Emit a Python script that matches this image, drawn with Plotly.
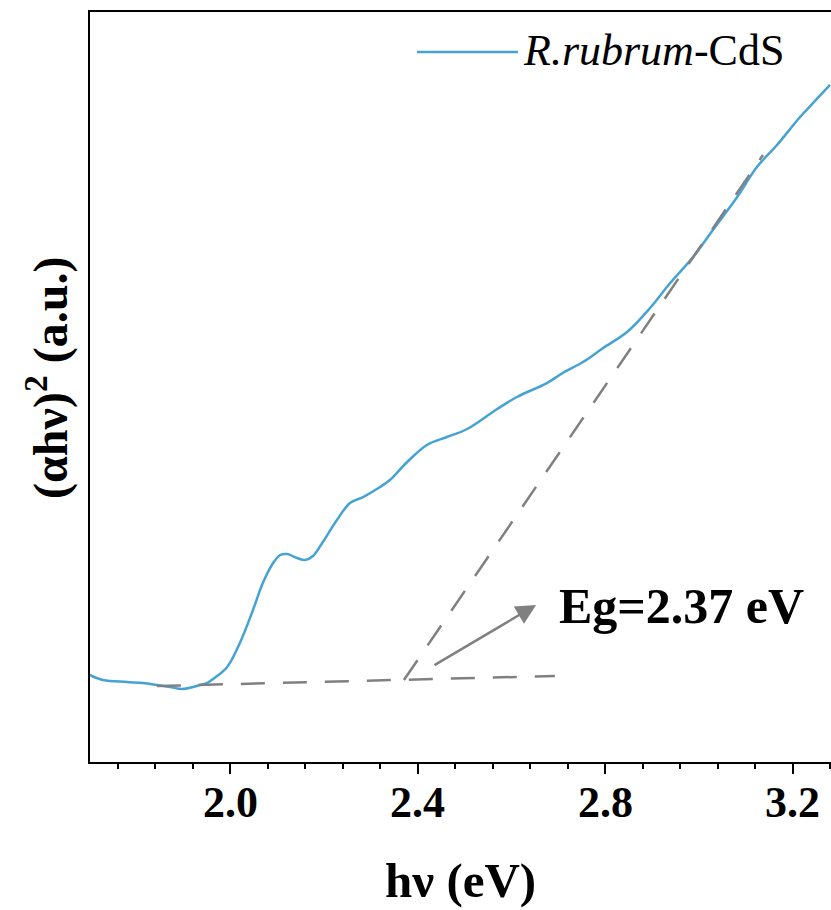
import plotly.graph_objects as go

# Tauc plot data (hv in eV, (ahv)^2 in a.u.)
hv = [1.701, 1.729, 1.780, 1.814, 1.844, 1.872, 1.898, 1.921, 1.936, 1.951,
      1.964, 1.994, 2.021, 2.049, 2.070, 2.092, 2.107, 2.122, 2.143, 2.160,
      2.177, 2.198, 2.228, 2.256, 2.284, 2.320, 2.341, 2.378, 2.420, 2.463,
      2.506, 2.570, 2.612, 2.676, 2.710, 2.753, 2.796, 2.847, 2.896, 2.939,
      2.988, 3.030, 3.082, 3.124, 3.167, 3.216, 3.244, 3.280]
absorb = [1.160, 1.093, 1.067, 1.053, 1.027, 1.000, 0.973, 1.000, 1.027, 1.053,
          1.107, 1.267, 1.587, 2.027, 2.387, 2.653, 2.760, 2.773, 2.720, 2.693,
          2.747, 2.933, 3.227, 3.453, 3.533, 3.667, 3.760, 4.000, 4.227, 4.333,
          4.440, 4.707, 4.867, 5.053, 5.187, 5.333, 5.520, 5.733, 6.053, 6.387,
          6.733, 7.093, 7.533, 7.933, 8.227, 8.600, 8.787, 9.027]

# Fitted baseline and tangent lines
base_x = [1.844, 2.693]
base_y = [1.013, 1.147]
tan_x = [2.371, 3.137]
tan_y = [1.093, 8.093]

# Arrow (tail -> tip) and label
arrow_tail = (2.433, 1.28)
arrow_tip = (2.653, 2.093)
eg_label = "Eg=2.37 eV"
eg_pos = (2.698, 2.08)

x_range = [1.7013, 3.2821]
y_range = [0, 10]
x_ticks = [2.0, 2.4, 2.8, 3.2]
x_ticklabels = ["2.0", "2.4", "2.8", "3.2"]
x_title = "hν (eV)"
y_title = "(αhν)<sup>2</sup> (a.u.)"

series_name = "<i>R.rubrum</i>-CdS"
line_color = "#45A3D4"
dash_color = "#808080"
font_family = "Liberation Serif"

fig = go.Figure()
fig.add_trace(go.Scatter(x=hv, y=absorb, mode="lines", line=dict(color=line_color, width=2.5),
                         line_shape="spline", showlegend=False))
fig.add_trace(go.Scatter(x=base_x, y=base_y, mode="lines",
                         line=dict(color=dash_color, width=2.5, dash="24px,18px"), showlegend=False))
fig.add_trace(go.Scatter(x=tan_x, y=tan_y, mode="lines",
                         line=dict(color=dash_color, width=2.5, dash="24px,18px"), showlegend=False))

fig.add_annotation(x=arrow_tip[0], y=arrow_tip[1], ax=arrow_tail[0], ay=arrow_tail[1],
                   xref="x", yref="y", axref="x", ayref="y", text="", showarrow=True,
                   arrowhead=2, arrowsize=1.6, arrowwidth=2.5, arrowcolor=dash_color)
fig.add_annotation(x=eg_pos[0], y=eg_pos[1], xref="x", yref="y", text="<b>" + eg_label + "</b>",
                   showarrow=False, xanchor="left", yanchor="middle",
                   font=dict(family=font_family, size=50, color="black"))

# Tick labels
for tv, tt in zip(x_ticks, x_ticklabels):
    fig.add_annotation(x=tv, y=0, xref="x", yref="paper", text="<b>" + tt + "</b>", showarrow=False,
                       xanchor="center", yanchor="middle", yshift=-40,
                       font=dict(family=font_family, size=44, color="black"))

# Axis titles
fig.add_annotation(x=0.5, y=0, xref="paper", yref="paper", text="<b>" + x_title + "</b>", showarrow=False,
                   xanchor="center", yanchor="middle", yshift=-118,
                   font=dict(family=font_family, size=49, color="black"))
fig.add_annotation(x=0, y=0.512, xref="paper", yref="paper", text="<b>" + y_title + "</b>", showarrow=False,
                   xanchor="center", yanchor="middle", xshift=-43, textangle=-90,
                   font=dict(family=font_family, size=48, color="black"))

# Manual legend
fig.add_shape(type="line", xref="paper", yref="paper", x0=0.4413, x1=0.5776, y0=0.9467, y1=0.9467,
              line=dict(color=line_color, width=2.5))
fig.add_annotation(x=0.5816, y=0.9493, xref="paper", yref="paper", text=series_name, showarrow=False,
                   xanchor="left", yanchor="middle", font=dict(family=font_family, size=44, color="black"))

fig.update_layout(
    width=831, height=910,
    margin=dict(l=90, r=0, t=12, b=148),
    paper_bgcolor="white", plot_bgcolor="white",
    font=dict(family=font_family, color="black"),
    showlegend=False,
)
fig.update_xaxes(
    range=x_range, showgrid=False, zeroline=False,
    showline=True, linecolor="black", linewidth=2, mirror=True,
    tickmode="array", tickvals=x_ticks, showticklabels=False,
    ticks="outside", ticklen=10, tickwidth=2, tickcolor="black",
    minor=dict(dtick=0.08, tick0=2.0, ticks="outside", ticklen=5, tickwidth=2, tickcolor="black"),
)
fig.update_yaxes(
    range=y_range, showgrid=False, zeroline=False,
    showline=True, linecolor="black", linewidth=2, mirror=False,
    ticks="", showticklabels=False,
)

fig.write_html("out.html", config={"displayModeBar": False},
               post_script="document.body.style.margin='0';document.body.style.overflow='hidden';")
